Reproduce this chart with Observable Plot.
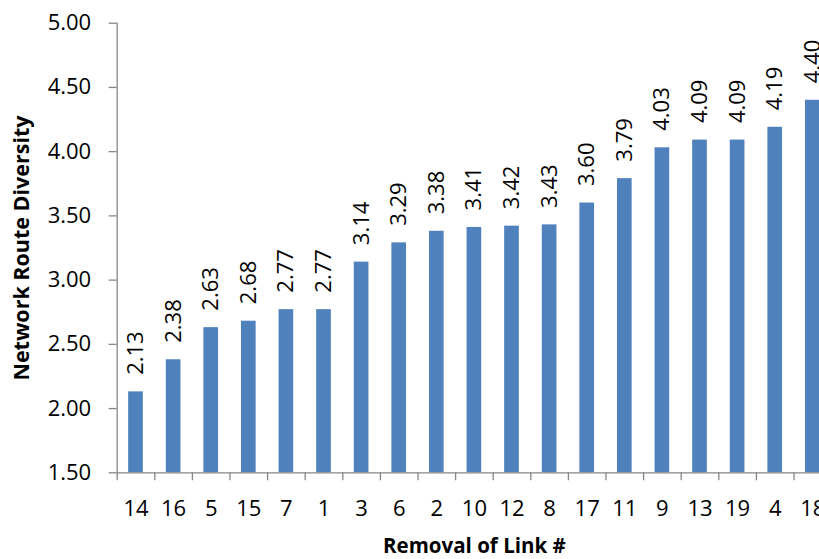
<!DOCTYPE html>
<html>
<head>
<meta charset="utf-8">
<script src="https://cdn.jsdelivr.net/npm/d3@7"></script>
<script src="https://cdn.jsdelivr.net/npm/@observablehq/plot@0.6"></script>
<style>
  html, body { margin: 0; padding: 0; background: #fff; overflow: hidden; }
  #chart { width: 819px; height: 559px; overflow: hidden; }
</style>
</head>
<body>
<div id="chart"></div>
<script>
// Link removed, in the order shown along the axis
const links = ["14", "16", "5", "15", "7", "1", "3", "6", "2", "10", "12", "8", "17", "11", "9", "13", "19", "4", "18"];
// Network route diversity after removing each link
const diversity = [2.13, 2.38, 2.63, 2.68, 2.77, 2.77, 3.14, 3.29, 3.38, 3.41, 3.42, 3.43, 3.60, 3.79, 4.03, 4.09, 4.09, 4.19, 4.40];
// Value-axis ticks
const yTicks = [1.5, 2.0, 2.5, 3.0, 3.5, 4.0, 4.5, 5.0];

const rows = links.map((link, i) => ({link, value: diversity[i]}));

const W = 819, H = 559;
const marginLeft = 116.7, marginTop = 22.7, marginBottom = 86.7;
const step = 37.6;                               // width of one category slot
const plotRight = marginLeft + step * links.length; // plot area runs past the right edge
const titleShift = (marginLeft + plotRight) / 2 - (marginLeft + W) / 2;

const axisGray = "#868686";
const barBlue = "#4F81BD";
const fontFamily = "'Open Sans', sans-serif";

const chart = Plot.plot({
  width: W,
  height: H,
  marginLeft,
  marginRight: 0,
  marginTop,
  marginBottom,
  style: {fontFamily, fontSize: "22px", color: "#000", background: "#fff", overflow: "hidden"},
  x: {type: "band", domain: links, range: [marginLeft, plotRight], round: false,
      paddingInner: 0.61, paddingOuter: 0.305},
  y: {domain: [1.5, 5]},
  marks: [
    Plot.barY(rows, {x: "link", y1: 1.5, y2: "value", fill: barBlue}),
    // axis lines
    Plot.ruleY([1.5], {stroke: axisGray, strokeWidth: 1.3}),
    Plot.ruleX([links[0]], {y1: 1.5, y2: 5, dx: -step / 2, stroke: axisGray, strokeWidth: 1.3}),
    // y axis ticks and labels
    Plot.axisY({ticks: yTicks, tickSize: 8, tickPadding: 18, tickFormat: d3.format(".2f"),
      stroke: axisGray, fill: "#000", fontSize: 22, label: null, strokeWidth: 1.3}),
    // x tick marks sit on the slot boundaries
    Plot.axisX({tickSize: 8, tickFormat: () => "", dx: -step / 2, stroke: axisGray, label: null, strokeWidth: 1.3}),
    // x labels centred under each bar
    Plot.axisX({tickSize: 0, tickPadding: 28, fill: "#000", fontSize: 22, label: null}),
    // value labels above each bar
    Plot.text(rows, {x: "link", y: "value", text: d => d.value.toFixed(2), rotate: -90,
      textAnchor: "start", dy: -17, fontSize: 22, fill: "#000"}),
    // axis titles
    Plot.text(["Removal of Link #"], {frameAnchor: "bottom", dx: titleShift, dy: 74,
      textAnchor: "middle", lineAnchor: "middle", fontSize: 20.5, fontWeight: "bold", fill: "#000"}),
    Plot.text(["Network Route Diversity"], {frameAnchor: "left", dx: -95, rotate: -90,
      textAnchor: "middle", lineAnchor: "middle", fontSize: 21.5, fontWeight: "bold", fill: "#000"})
  ]
});

document.getElementById("chart").appendChild(chart);
</script>
</body>
</html>
